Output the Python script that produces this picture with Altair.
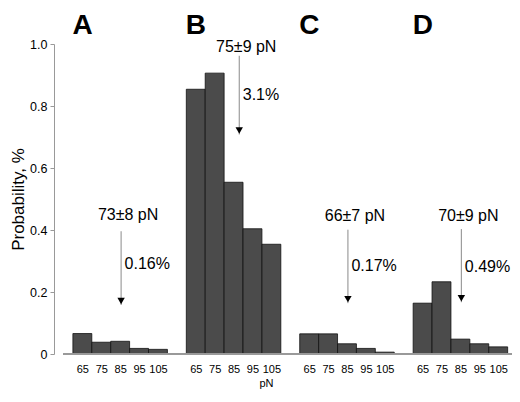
import json
import altair as alt
import pandas as pd

# ---- data ----
panels = ["A", "B", "C", "D"]
bins = ["65", "75", "85", "95", "105"]
prob_A = [0.066, 0.038, 0.041, 0.018, 0.015]
prob_B = [0.854, 0.906, 0.554, 0.404, 0.354]
prob_C = [0.065, 0.065, 0.033, 0.018, 0.006]
prob_D = [0.164, 0.233, 0.048, 0.033, 0.023]

force_labels = ["73\u00b18 pN", "75\u00b19 pN", "66\u00b17 pN", "70\u00b19 pN"]
pct_labels = ["0.16%", "3.1%", "0.17%", "0.49%"]
arrow_x = [3.55, 9.8, 15.55, 21.55]
arrow_top = [0.396, 0.962, 0.401, 0.403]
arrow_tip = [0.158, 0.708, 0.164, 0.167]
force_y = [0.433, 0.974, 0.429, 0.430]
pct_y = [0.274, 0.818, 0.268, 0.263]

# ---- tables ----
rows = []
for i, (p, vals) in enumerate(zip(panels, [prob_A, prob_B, prob_C, prob_D])):
    for j, (b, v) in enumerate(zip(bins, vals)):
        start = 6 * i + 1 + j
        rows.append({"panel": p, "bin": b, "x0": start, "x1": start + 1,
                     "xc": start + 0.5, "prob": v, "zero": 0})
bars_df = pd.DataFrame(rows)
centers = list(bars_df["xc"])

ann_df = pd.DataFrame({
    "panel": panels, "force": force_labels, "pct": pct_labels,
    "ax": arrow_x, "top": arrow_top, "tip": arrow_tip,
    "fy": force_y, "py": pct_y,
})
letters_df = pd.DataFrame({"panel": panels,
                           "lx": [6 * i + 1 for i in range(len(panels))]})

X_END = 24.23
xscale = alt.Scale(domain=[0, X_END], nice=False, zero=False)
yscale = alt.Scale(domain=[0, 1], nice=False)

x_axis = alt.Axis(
    values=centers,
    labelExpr=json.dumps(bins) + "[round((datum.value - 1.5) % 6)]",
    ticks=False, domain=False, grid=False,
    labelFontSize=11, labelPadding=9, labelColor="#000",
    labelOverlap=False, labelFlush=False, labelBound=False,
    title="pN", titleFontSize=11, titleFontWeight="normal", titleColor="#000",
    titleX=212, titleY=23, titleAlign="center", titleAnchor="start",
)
y_axis = alt.Axis(
    values=[0, 0.2, 0.4, 0.6, 0.8, 1.0],
    labelExpr="datum.value == 0 ? '0' : format(datum.value, '.1f')",
    grid=False, domainColor="#999", tickColor="#999", tickSize=4,
    labelFontSize=12.5, labelColor="#000", labelPadding=3,
    labelOverlap=False,
    title="Probability, %", titleFontSize=17, titleFontWeight="normal",
    titleColor="#000", titleX=-31, titleY=155, titleBaseline="alphabetic",
    titleAlign="center", titleAngle=270,
)


def X(field):
    return alt.X(field, type="quantitative", scale=xscale, axis=x_axis)


def Y(field):
    return alt.Y(field, type="quantitative", scale=yscale, axis=y_axis)


bars = alt.Chart(bars_df).mark_rect(
    color="#4b4b4b", stroke="#111", strokeWidth=0.8
).encode(x=X("x0"), x2="x1:Q", y=Y("prob"), y2="zero:Q")

baseline = alt.Chart(bars_df).mark_rule(color="#999", strokeWidth=1).encode(
    x=alt.datum(0.5, type="quantitative", scale=xscale, axis=x_axis),
    x2=alt.datum(X_END),
    y=alt.datum(0, type="quantitative", scale=yscale, axis=y_axis),
)

arrow_line = alt.Chart(ann_df).mark_rule(color="#8a8a8a", strokeWidth=1).encode(
    x=X("ax"), y=Y("top"), y2="tip:Q"
)
arrow_head = alt.Chart(ann_df).mark_point(
    shape="triangle-down", filled=True, color="#000", size=55, opacity=1,
    yOffset=-4
).encode(x=X("ax"), y=Y("tip"))

force_text = alt.Chart(ann_df).mark_text(
    align="center", baseline="alphabetic", dx=7, fontSize=16, color="#000"
).encode(x=X("ax"), y=Y("fy"), text="force:N")

pct_text = alt.Chart(ann_df).mark_text(
    align="left", baseline="alphabetic", dx=3.5, fontSize=16, color="#000"
).encode(x=X("ax"), y=Y("py"), text="pct:N")

letters = alt.Chart(letters_df).mark_text(
    align="left", baseline="alphabetic", fontSize=28, fontWeight="bold",
    color="#000", dx=-0.5
).encode(x=X("lx"), y=alt.value(-10.5), text="panel:N")

chart = alt.layer(
    bars, baseline, arrow_line, arrow_head, force_text, pct_text, letters
).properties(
    width=458, height=310,
    padding={"left": 46, "top": 36, "right": 0, "bottom": 36},
    autosize=alt.AutoSizeParams(type="none"),
).configure(
    font="Liberation Sans"
).configure_view(stroke=None)

chart.save("out.html", embed_options={"renderer": "svg", "actions": False})
